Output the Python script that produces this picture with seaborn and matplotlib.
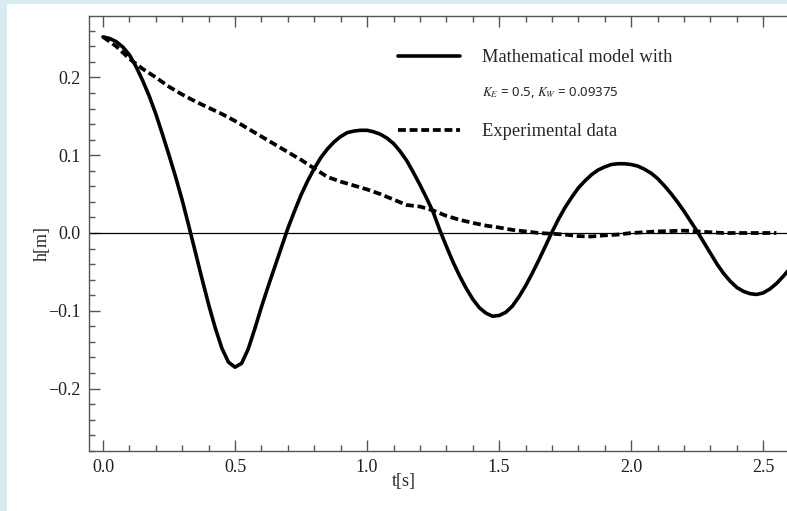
import numpy as np
import pandas as pd
import matplotlib
matplotlib.use("Agg")
import matplotlib.pyplot as plt
from matplotlib.lines import Line2D
from matplotlib.patches import Rectangle
from matplotlib.ticker import MultipleLocator
import seaborn as sns

# Mathematical model h(t), sampled every 0.025 s
t_model = [round(0.025 * i, 3) for i in range(105)]
h_model = [0.252, 0.250, 0.246, 0.239, 0.229, 0.214, 0.196, 0.176, 0.153, 0.127,
           0.100, 0.072, 0.042, 0.009, -0.025, -0.059, -0.092, -0.122, -0.148, -0.166,
           -0.1725, -0.1675, -0.149, -0.123, -0.095, -0.069, -0.044, -0.019, 0.006, 0.028,
           0.049, 0.067, 0.083, 0.097, 0.108, 0.117, 0.124, 0.129, 0.131, 0.132,
           0.132, 0.130, 0.127, 0.122, 0.115, 0.105, 0.093, 0.078, 0.062, 0.045,
           0.027, 0.004, -0.017, -0.037, -0.055, -0.071, -0.085, -0.096, -0.103, -0.107,
           -0.106, -0.102, -0.094, -0.082, -0.068, -0.052, -0.035, -0.017, 0.001, 0.018,
           0.033, 0.046, 0.058, 0.067, 0.075, 0.081, 0.085, 0.088, 0.089, 0.089,
           0.088, 0.086, 0.082, 0.077, 0.070, 0.061, 0.051, 0.040, 0.028, 0.015,
           0.002, -0.012, -0.026, -0.040, -0.052, -0.062, -0.070, -0.075, -0.078, -0.079,
           -0.077, -0.072, -0.065, -0.056, -0.046]

# Experimental measurements
t_exp = [0.00, 0.05, 0.10, 0.15, 0.20, 0.25, 0.30, 0.35, 0.40, 0.45,
         0.50, 0.55, 0.60, 0.65, 0.70, 0.75, 0.80, 0.85, 0.90, 0.95,
         1.00, 1.05, 1.10, 1.15, 1.20, 1.25, 1.30, 1.35, 1.40, 1.45,
         1.50, 1.55, 1.60, 1.65, 1.70, 1.75, 1.80, 1.85, 1.90, 1.95,
         2.00, 2.05, 2.10, 2.15, 2.20, 2.25, 2.30, 2.35, 2.40, 2.45,
         2.50, 2.55]
h_exp = [0.252, 0.240, 0.224, 0.211, 0.200, 0.188, 0.178, 0.169, 0.161, 0.153,
         0.144, 0.134, 0.124, 0.114, 0.104, 0.094, 0.083, 0.072, 0.066, 0.061,
         0.056, 0.050, 0.043, 0.036, 0.034, 0.029, 0.022, 0.017, 0.013, 0.0095,
         0.007, 0.004, 0.002, 0.000, -0.001, -0.002, -0.004, -0.0045, -0.003, -0.002,
         0.000, 0.001, 0.002, 0.0025, 0.003, 0.002, 0.001, 0.000, 0.000, 0.000,
         0.000, 0.000]

x_ticks = [0.0, 0.5, 1.0, 1.5, 2.0, 2.5]
y_ticks = [-0.2, -0.1, 0.0, 0.1, 0.2]
label_model = "Mathematical model with"
label_params = r"$K_E$ = 0.5, $K_W$ = 0.09375"
label_exp = "Experimental data"

sns.set_theme(style="ticks")
plt.rcParams["font.family"] = ["Liberation Serif", "DejaVu Serif"]
plt.rcParams["mathtext.fontset"] = "stix"
plt.rcParams["axes.unicode_minus"] = True

fig = plt.figure(figsize=(7.87, 5.11), dpi=100)
fig.patch.set_facecolor("#d8ebf1")
fig.patches.append(Rectangle((7 / 787, 0), 1 - 7 / 787, 1 - 4 / 511,
                             transform=fig.transFigure, facecolor="white",
                             edgecolor="none", zorder=-10))

ax = fig.add_axes([89 / 787, 60 / 511, 698 / 787, 435 / 511])
ax.set_zorder(5)
ax.set_facecolor("none")

df_model = pd.DataFrame({"t": t_model, "h": h_model})
df_exp = pd.DataFrame({"t": t_exp, "h": h_exp})

dash = (0, (2.1, 1.0))
ax.axhline(0, color="black", lw=0.9, zorder=1)
sns.lineplot(data=df_model, x="t", y="h", ax=ax, color="black", lw=2.6,
             solid_capstyle="round", solid_joinstyle="round", zorder=3)
sns.lineplot(data=df_exp, x="t", y="h", ax=ax, color="black", lw=2.7,
             linestyle=dash, dash_capstyle="butt", zorder=3)

ax.set_xlim(-0.053, 2.590)
ax.set_ylim(-0.2802, 0.2789)
ax.set_xticks(x_ticks)
ax.set_xticklabels([f"{v:.1f}" for v in x_ticks])
ax.set_yticks(y_ticks)
ax.set_yticklabels([f"{v:.1f}".replace("-", "\u2212") for v in y_ticks])
ax.xaxis.set_minor_locator(MultipleLocator(0.1))
ax.yaxis.set_minor_locator(MultipleLocator(0.02))

spine_col = "#555555"
for side in ["left", "bottom", "top"]:
    ax.spines[side].set_color(spine_col)
    ax.spines[side].set_linewidth(1.0)
ax.spines["right"].set_visible(False)

ax.tick_params(which="both", direction="in", top=True, right=False,
               color=spine_col, width=1.0, labelsize=13, labelcolor="#1f1f1f")
ax.tick_params(which="major", length=8, pad=6)
ax.tick_params(which="minor", length=4)

ax.set_xlabel("t[s]", fontsize=13)
ax.set_ylabel("h[m]", fontsize=13)
ax.xaxis.set_label_coords((404 - 89) / 698, -0.051)
ax.yaxis.set_label_coords((51 - 89) / 698, (451 - 243) / 435)

handles = [Line2D([], [], color="black", lw=2.6),
           Line2D([], [], color="black", lw=2.7, linestyle=dash,
                  dash_capstyle="butt")]
leg = ax.legend(handles, [label_model, label_exp], loc="upper left",
                bbox_to_anchor=((398 - 89) / 698, (451 - 49) / 435),
                frameon=False, fontsize=13.3, handlelength=3.35,
                handletextpad=1.2, labelspacing=3.1, borderpad=0,
                borderaxespad=0)
ax.text((482 - 89) / 698, (451 - 92) / 435, label_params, transform=ax.transAxes,
        fontsize=9.5, family=["Noto Sans", "DejaVu Sans"], va="center", ha="left")

fig.savefig("out.png", dpi=100)
